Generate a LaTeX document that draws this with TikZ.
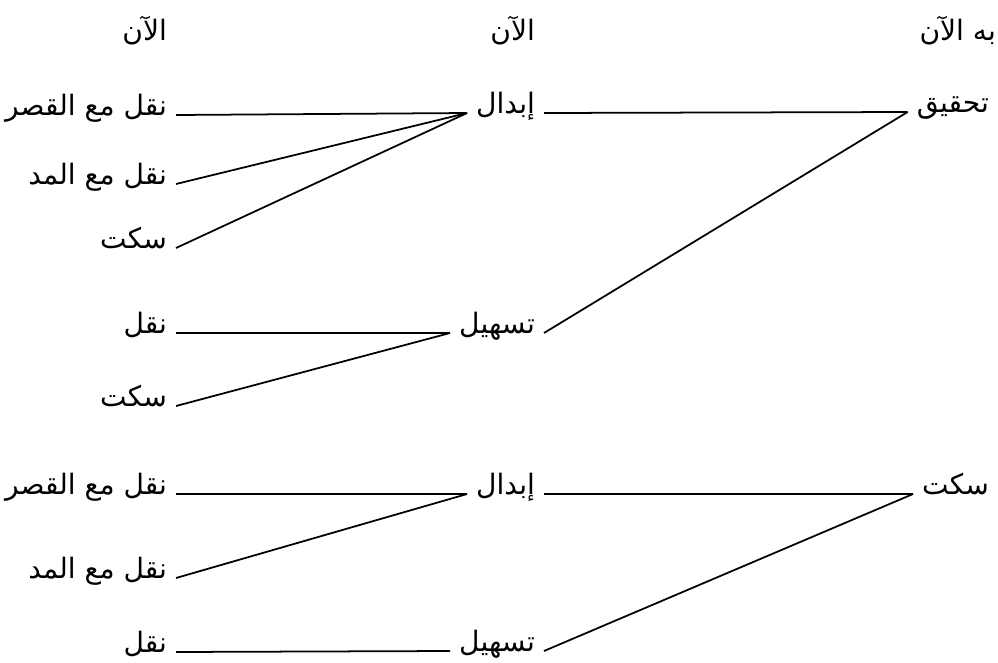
\documentclass[tikz,border=0pt]{standalone}
\usepackage{fontspec}
\newfontfamily\arabicfont[Script=Arabic]{DejaVu Sans}
\TeXXeTstate=1
\tikzset{
  term/.style={anchor=base east, inner xsep=5pt, inner ysep=0pt,
    font=\arabicfont\fontsize{16}{18}\selectfont},
  link/.style={line width=1pt, draw=black}
}
\begin{document}
\begin{tikzpicture}[x=0.02cm, y=-0.02cm]
  \useasboundingbox (0,0) rectangle (998,663);
  % column heads
  \node[term] (headL) at (176,40) {\beginR الآن\endR};
  \node[term] (headM) at (544,40) {\beginR الآن\endR};
  \node[term] (headR) at (1005,40) {\beginR به الآن\endR};
  % right column
  \node[term] (tahqiq) at (998,112) {\beginR تحقيق\endR};
  \node[term] (saktR) at (998,494) {\beginR سكت\endR};
  % middle column
  \node[term] (ibdalA) at (544,113) {\beginR إبدال\endR};
  \node[term] (tashilA) at (544,333) {\beginR تسهيل\endR};
  \node[term] (ibdalB) at (544,494) {\beginR إبدال\endR};
  \node[term] (tashilB) at (544,651) {\beginR تسهيل\endR};
  % left column
  \node[term] (qasrA) at (176,115) {\beginR نقل مع القصر\endR};
  \node[term] (maddA) at (176,184) {\beginR نقل مع المد\endR};
  \node[term] (saktA) at (176,248) {\beginR سكت\endR};
  \node[term] (naqlB) at (176,333) {\beginR نقل\endR};
  \node[term] (saktB) at (176,406) {\beginR سكت\endR};
  \node[term] (qasrC) at (176,494) {\beginR نقل مع القصر\endR};
  \node[term] (maddC) at (176,578) {\beginR نقل مع المد\endR};
  \node[term] (naqlD) at (176,652) {\beginR نقل\endR};
  % right to middle
  \draw[link] (tahqiq.base west) -- (ibdalA.base east);
  \draw[link] (tahqiq.base west) -- (tashilA.base east);
  \draw[link] (saktR.base west) -- (ibdalB.base east);
  \draw[link] (saktR.base west) -- (tashilB.base east);
  % middle to left
  \draw[link] (ibdalA.base west) -- (qasrA.base east);
  \draw[link] (ibdalA.base west) -- (maddA.base east);
  \draw[link] (ibdalA.base west) -- (saktA.base east);
  \draw[link] (tashilA.base west) -- (naqlB.base east);
  \draw[link] (tashilA.base west) -- (saktB.base east);
  \draw[link] (ibdalB.base west) -- (qasrC.base east);
  \draw[link] (ibdalB.base west) -- (maddC.base east);
  \draw[link] (tashilB.base west) -- (naqlD.base east);
\end{tikzpicture}
\end{document}
